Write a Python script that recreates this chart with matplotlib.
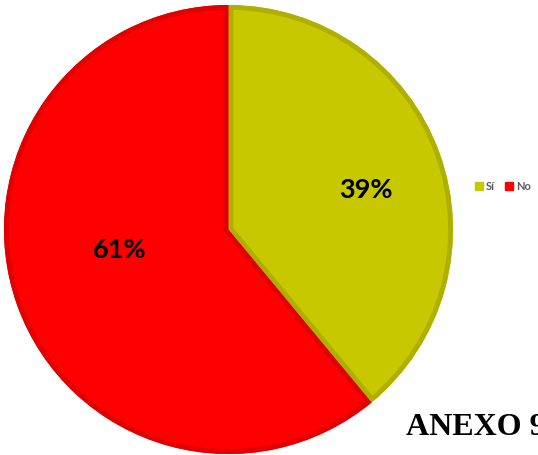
import matplotlib
matplotlib.use("Agg")
import matplotlib.pyplot as plt
from matplotlib.lines import Line2D
from matplotlib.patches import Wedge

# Answer shares
categories = ["Sí", "No"]
values = [39, 61]
fill_colors = ["#C8C800", "#FF0000"]
edge_colors = ["#AFAF00", "#E00000"]
pct_labels = ["39%", "61%"]

W, H = 538, 455
fig = plt.figure(figsize=(W / 100, H / 100), dpi=100)
ax = fig.add_axes([0, 0, 1, 1])

cx, cy, r = 228.5, H - 229.5, 224.5
wedges, _ = ax.pie(values, colors=fill_colors, startangle=90, counterclock=False,
                   center=(cx, cy), radius=r, frame=True,
                   wedgeprops={"linewidth": 0})
ax.set_xlim(0, W)
ax.set_ylim(0, H)
ax.set_aspect("equal")
ax.axis("off")

# inner darker rim on each slice: a thick stroke clipped to the slice itself
for w, ec in zip(wedges, edge_colors):
    rim = Wedge(w.center, w.r, w.theta1, w.theta2, facecolor="none",
                edgecolor=ec, linewidth=7.0)
    ax.add_patch(rim)
    rim.set_clip_path(w)

# percentage labels
label_pos = [(366, H - 190), (119.5, H - 250.5)]
for txt, (x, y) in zip(pct_labels, label_pos):
    ax.text(x, y, txt, ha="center", va="center", fontsize=19.5, fontweight="bold",
            family="Lato", color="black")

handles = [Line2D([], [], marker="s", linestyle="none", markersize=5.5,
                  markerfacecolor=c, markeredgecolor=c) for c in fill_colors]
leg = ax.legend(handles, categories, ncol=2, loc="center left",
                bbox_to_anchor=(470 / W, 1 - 186 / H), frameon=False,
                handlelength=0.6, handletextpad=0.3, columnspacing=1.0,
                borderpad=0, prop={"family": "Lato", "size": 8, "weight": "bold"})
for t in leg.get_texts():
    t.set_color("#595959")

fig.text(406 / W, 1 - 435 / H, "ANEXO 9", ha="left", va="baseline",
         fontsize=23, fontweight="bold", family="Liberation Serif", color="black")

fig.savefig("out.png", dpi=100)
